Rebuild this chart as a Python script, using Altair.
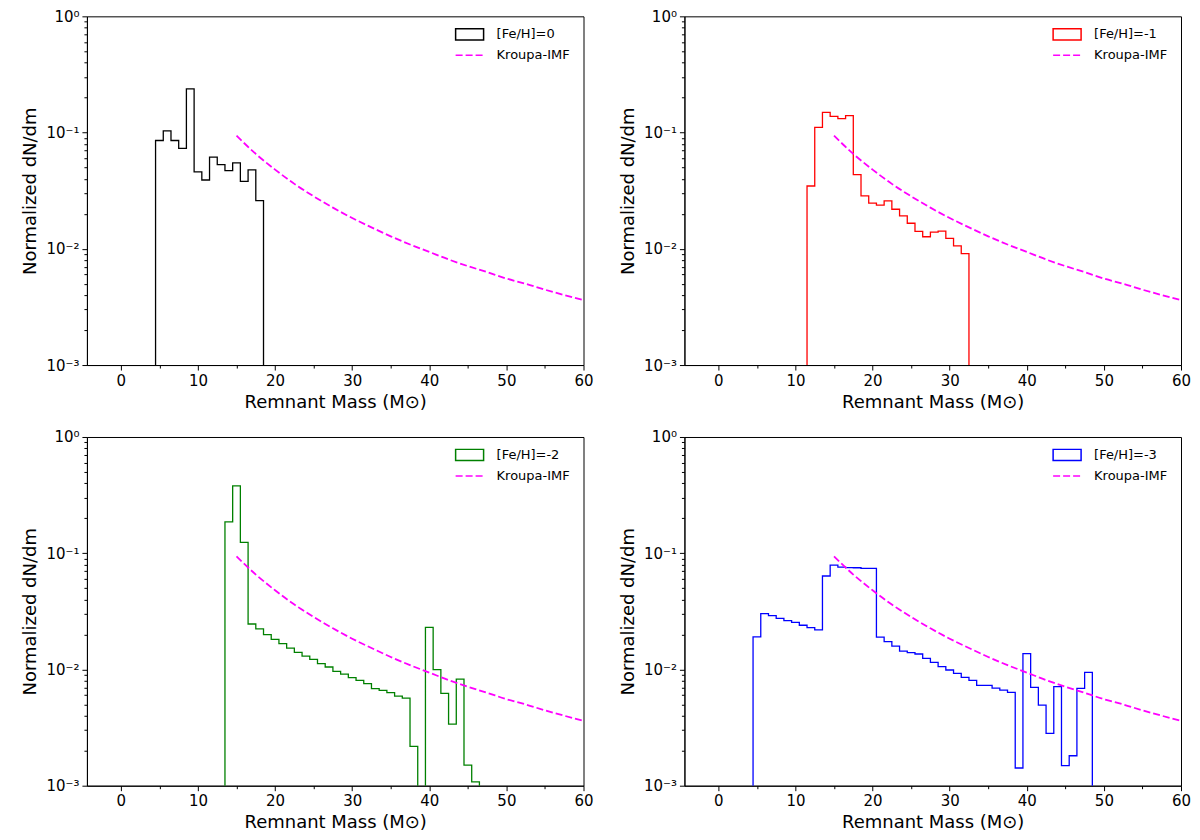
import altair as alt
import pandas as pd

# Remnant mass histograms, one bin per solar mass
fe0_start = 4.5
fe0_dndm = [0.0855, 0.1035, 0.0855, 0.073, 0.238, 0.0459, 0.0391, 0.0614,
            0.0531, 0.0471, 0.0548, 0.0381, 0.0477, 0.026]

fem1_start = 11.5
fem1_dndm = [0.0347, 0.111, 0.149, 0.138, 0.132, 0.140, 0.0435, 0.0285,
             0.0247, 0.0238, 0.0258, 0.0219, 0.0192, 0.0166, 0.0141, 0.0127,
             0.0139, 0.0142, 0.0123, 0.0106, 0.0091]

fem2_start = 13.5
fem2_dndm = [0.186, 0.379, 0.124, 0.0246, 0.0223, 0.0199, 0.01815, 0.01667,
             0.01528, 0.01403, 0.01303, 0.01222, 0.01122, 0.0105, 0.00964,
             0.00913, 0.0085, 0.00806, 0.00755, 0.00684, 0.00661, 0.00631,
             0.0059, 0.00567, 0.00218, 0.0, 0.023, 0.00996, 0.00622, 0.00339,
             0.00827, 0.0015, 0.00108]

fem3_start = 4.5
fem3_dndm = [0.0191, 0.0302, 0.0290, 0.0275, 0.0263, 0.0254, 0.0240, 0.0229,
             0.0219, 0.0637, 0.0791, 0.0760, 0.0752, 0.0750, 0.0742, 0.0740,
             0.0190, 0.01734, 0.01589, 0.01439, 0.01395, 0.01358, 0.01246,
             0.01151, 0.01057, 0.00989, 0.00925, 0.00855, 0.00806, 0.0073,
             0.0073, 0.00692, 0.00665, 0.00635, 0.00142, 0.01367, 0.00702,
             0.00494, 0.00282, 0.00711, 0.00149, 0.00181, 0.00688, 0.00944]

# Kroupa IMF curve (same in every panel)
kroupa_mass = [15, 17.5, 20, 22.5, 25, 27.5, 30, 32.5, 35, 37.5, 40, 42.5,
               45, 47.5, 50, 52.5, 55, 57.5, 60]
kroupa_dndm = [0.094, 0.0655, 0.048, 0.0362, 0.0283, 0.0226, 0.0184, 0.0153,
               0.0128, 0.0109, 0.0094, 0.0081, 0.0071, 0.0063, 0.00555,
               0.0050, 0.00445, 0.0040, 0.00362]

x_ticks = [0, 5, 10, 15, 20, 25, 30, 35, 40, 45, 50, 55, 60]
y_ticks = [k * 10.0 ** e for e in (-3, -2, -1) for k in range(1, 10)] + [1.0]
y_labels = ["10⁻³", "10⁻²", "10⁻¹", "10⁰"]

panels = [
    ("[Fe/H]=0", "black", fe0_start, fe0_dndm),
    ("[Fe/H]=-1", "red", fem1_start, fem1_dndm),
    ("[Fe/H]=-2", "green", fem2_start, fem2_dndm),
    ("[Fe/H]=-3", "blue", fem3_start, fem3_dndm),
]

FLOOR = 1e-4  # empty bins, below the plotted range and clipped
IMF = "Kroupa-IMF"
DASH = [7, 3]
W, H = 497, 349

decade = "abs(log(datum.value) / LN10 - round(log(datum.value) / LN10)) < 0.001"
power = "round(log(datum.value) / LN10)"
label_list = "[" + ", ".join(f"'{s}'" for s in y_labels) + "]"

x_axis = alt.Axis(
    values=x_ticks,
    labelExpr="datum.value % 10 === 0 ? datum.label : ''",
    tickSize={"condition": {"test": "datum.value % 10 === 0", "value": 5}, "value": 3},
    labelFlush=False, labelOverlap=False, labelPadding=3, titlePadding=5,
)
y_axis = alt.Axis(
    values=y_ticks,
    labelExpr=f"{decade} ? {label_list}[{power} + 3] : ''",
    tickSize={"condition": {"test": decade, "value": 5}, "value": 3},
    labelFlush=False, labelOverlap=False, labelPadding=3, titlePadding=6,
)

# both legend entries sit in the upper right corner, one above the other
legend_style = dict(
    title=None, orient="none", legendX=W - 124, padding=2,
    labelFont="DejaVu Sans", labelFontSize=13, labelColor="black",
    labelLimit=300, labelOffset=19, symbolSize=196, symbolStrokeWidth=1.5,
)


def step_table(label, start, values):
    # outline of a step histogram: up from the floor, across each bin, back down
    rows = [(start, FLOOR)]
    rows += [(start + i, max(v, FLOOR)) for i, v in enumerate(values)]
    rows.append((start + len(values), FLOOR))
    df = pd.DataFrame(rows, columns=["m", "dndm"])
    df["order"] = range(len(df))
    df["series"] = label
    return df


def panel(label, colour, start, values):
    hist = step_table(label, start, values)
    imf = pd.DataFrame({"m": kroupa_mass, "dndm": kroupa_dndm, "series": IMF})

    x = alt.X("m:Q", title="Remnant Mass (M⊙)", axis=x_axis,
              scale=alt.Scale(domain=[-4.4, 60], nice=False, zero=False))
    y = alt.Y("dndm:Q", title="Normalized dN/dm", axis=y_axis,
              scale=alt.Scale(type="log", domain=[1e-3, 1], nice=False))

    steps = alt.Chart(hist).mark_line(
        interpolate="step-after", clip=True, strokeWidth=1.3
    ).encode(
        x=x, y=y, order="order:Q",
        color=alt.Color(
            "series:N",
            scale=alt.Scale(domain=[label], range=[colour]),
            legend=alt.Legend(symbolType="M-2,-0.8H2V0.8H-2Z", legendY=8,
                              symbolFillColor="transparent", **legend_style),
        ),
    )

    kroupa = alt.Chart(imf).mark_line(
        interpolate="monotone", strokeWidth=1.8, clip=True, color="magenta"
    ).encode(
        x=x, y=y,
        strokeDash=alt.StrokeDash(
            "series:N",
            scale=alt.Scale(domain=[IMF], range=[DASH]),
            legend=alt.Legend(symbolType="M-2,0H2", symbolStrokeColor="magenta",
                              legendY=29, **legend_style),
        ),
    )

    return alt.layer(steps, kroupa).properties(width=W, height=H)


chart = alt.concat(
    *[panel(*p) for p in panels], columns=2, spacing={"row": 17, "column": 24}
).resolve_scale(
    color="independent", strokeDash="independent"
).properties(
    padding={"left": 13, "top": 0, "right": 0, "bottom": 0}
).configure_view(
    stroke="black", strokeWidth=1
).configure_axis(
    grid=False,
    labelFont="DejaVu Sans", labelFontSize=15, labelColor="black",
    titleFont="DejaVu Sans", titleFontSize=18, titleFontWeight="normal",
    titleColor="black", tickColor="black", domainColor="black",
)

chart.save("out.html", embed_options={"renderer": "svg", "actions": False})
